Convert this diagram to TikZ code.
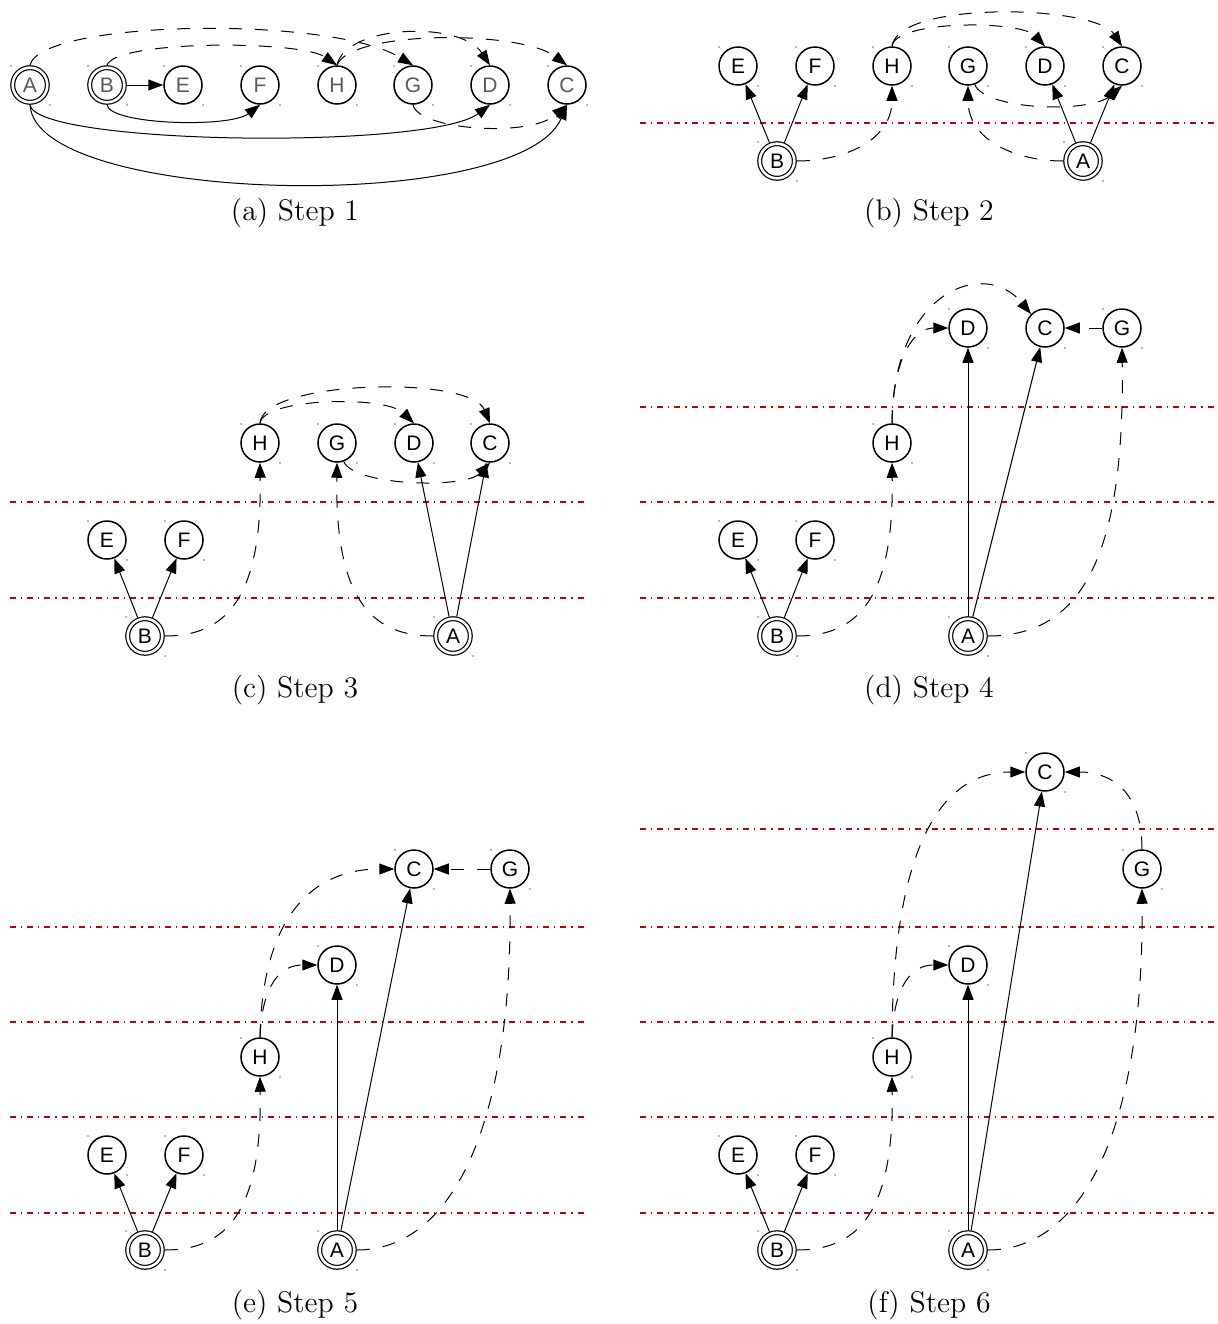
\documentclass[tikz,border=0pt]{standalone}
\usepackage{fontspec}
\newfontfamily\nodefont{Liberation Sans}
\usetikzlibrary{arrows.meta}
\definecolor{rankred}{RGB}{195,0,0}
\tikzset{
  st/.style={circle, draw, line width=0.75pt, minimum size=19pt, inner sep=0pt, font=\nodefont\fontsize{10.5}{12}\selectfont},
  acc/.style={circle, draw, double, double distance=1.3pt, line width=0.6pt, minimum size=17.3pt, inner sep=0pt, outer sep=1.25pt, font=\nodefont\fontsize{10.5}{12}\selectfont},
  grayt/.style={text=black!65},
  arr/.style={line width=0.5pt, -{Triangle[length=7.5pt,width=5.5pt]}},
  darr/.style={arr, dash pattern=on 6.5pt off 6.5pt},
  rankline/.style={draw=rankred, line width=0.6pt, dash pattern=on 3pt off 2.5pt on 0.6pt off 2.5pt},
  capt/.style={font=\fontsize{14.9}{18}\selectfont, inner sep=0pt}
}
\newcommand\cornerdots[1]{\foreach \n in {#1}{\fill[black!55] ([shift={(-19,-19)}]\n.center) circle (0.8); \fill[black!55] ([shift={(20,20)}]\n.center) circle (0.8);}}
\begin{document}
\begin{tikzpicture}[x=0.5pt,y=-0.5pt]
\useasboundingbox (0,0) rectangle (1218,1324);

% ================= (a) Step 1
\node[acc,grayt] (aA) at (30,85) {A};
\node[acc,grayt] (aB) at (107,85) {B};
\node[st,grayt] (aE) at (183,85) {E};
\node[st,grayt] (aF) at (260,85) {F};
\node[st,grayt] (aH) at (337,85) {H};
\node[st,grayt] (aG) at (413,85) {G};
\node[st,grayt] (aD) at (490,85) {D};
\node[st,grayt] (aC) at (567,85) {C};
\cornerdots{aA,aB,aE,aF,aH,aG,aD,aC}
\draw[arr] (aB) -- (aE);
\draw[arr] (aB.south) .. controls (110,125) and (230,128) .. (aF.south);
\draw[arr] (aA.south) .. controls (35,145) and (430,150) .. (aD.south);
\draw[arr] (aA.south) .. controls (35,205) and (520,215) .. (aC.south);
\draw[darr] (aG.south) .. controls (418,130) and (530,138) .. (aC.south);
\draw[darr] (aA.north) .. controls (40,20) and (330,15) .. (aG.north);
\draw[darr] (aB.north) .. controls (115,40) and (300,40) .. (aH.north);
\draw[darr] (aH.north) .. controls (345,25) and (460,20) .. (aD.north);
\draw[darr] (aH.north) .. controls (350,30) and (520,30) .. (aC.north);
\node[capt] (capa) at (295,213) {(a) Step 1};

% ================= (b) Step 2
\draw[rankline] (640,123) -- (1218,123);
\node[st] (bE) at (738,66) {E};
\node[st] (bF) at (815,66) {F};
\node[st] (bH) at (892,66) {H};
\node[st] (bG) at (968,66) {G};
\node[st] (bD) at (1045,66) {D};
\node[st] (bC) at (1122,66) {C};
\node[acc] (bB) at (777,161) {B};
\node[acc] (bA) at (1083,161) {A};
\cornerdots{bE,bF,bH,bG,bD,bC,bB,bA}
\draw[arr] (bB) -- (bE);
\draw[arr] (bB) -- (bF);
\draw[darr] (bB.east) .. controls (845,161) and (892,140) .. (bH.south);
\draw[darr] (bA.west) .. controls (1015,161) and (968,140) .. (bG.south);
\draw[arr] (bA) -- (bD);
\draw[arr] (bA) -- (bC);
\draw[darr] (bG.-70) .. controls (985,110) and (1090,114) .. (bC.south);
\draw[darr] (bH.north) .. controls (895,20) and (1020,20) .. (bD.north);
\draw[darr] (bH.north) .. controls (898,0) and (1095,5) .. (bC.north);
\node[capt] (capb) at (929,213) {(b) Step 2};

% ================= (c) Step 3
\draw[rankline] (10,502) -- (587,502);
\draw[rankline] (10,598) -- (587,598);
\node[st] (cH) at (260,443) {H};
\node[st] (cG) at (337,443) {G};
\node[st] (cD) at (414,443) {D};
\node[st] (cC) at (490,443) {C};
\node[st] (cE) at (107,540) {E};
\node[st] (cF) at (184,540) {F};
\node[acc] (cB) at (145,636) {B};
\node[acc] (cA) at (453,636) {A};
\cornerdots{cH,cG,cD,cC,cE,cF,cB,cA}
\draw[arr] (cB) -- (cE);
\draw[arr] (cB) -- (cF);
\draw[darr] (cB.east) .. controls (225,636) and (262,600) .. (cH.south);
\draw[darr] (cA.west) .. controls (372,636) and (335,600) .. (cG.south);
\draw[arr] (cA) -- (cD);
\draw[arr] (cA) -- (cC);
\draw[darr] (cG.-70) .. controls (354,486) and (465,489) .. (cC.south);
\draw[darr] (cH.north) .. controls (263,398) and (385,395) .. (cD.north);
\draw[darr] (cH.north) .. controls (262,380) and (470,375) .. (cC.north);
\node[capt] (capc) at (295,690) {(c) Step 3};

% ================= (d) Step 4
\draw[rankline] (640,407) -- (1218,407);
\draw[rankline] (640,502) -- (1218,502);
\draw[rankline] (640,598) -- (1218,598);
\node[st] (dD) at (968,328) {D};
\node[st] (dC) at (1045,328) {C};
\node[st] (dG) at (1122,328) {G};
\node[st] (dH) at (892,443) {H};
\node[st] (dE) at (738,540) {E};
\node[st] (dF) at (815,540) {F};
\node[acc] (dB) at (777,636) {B};
\node[acc] (dA) at (968,636) {A};
\cornerdots{dD,dC,dG,dH,dE,dF,dB,dA}
\draw[arr] (dB) -- (dE);
\draw[arr] (dB) -- (dF);
\draw[darr] (dB.east) .. controls (857,636) and (894,600) .. (dH.south);
\draw[darr] (dH.north) .. controls (893,355) and (915,328) .. (dD.west);
\draw[darr] (dH.north) .. controls (893,290) and (985,258) .. (dC.135);
\draw[arr] (dA) -- (dD);
\draw[arr] (dA) -- (dC);
\draw[darr] (dA.east) .. controls (1080,636) and (1125,560) .. (dG.south);
\draw[darr] (dG) -- (dC);
\node[capt] (capd) at (929,690) {(d) Step 4};

% ================= (e) Step 5
\draw[rankline] (10,927) -- (587,927);
\draw[rankline] (10,1022) -- (587,1022);
\draw[rankline] (10,1117) -- (587,1117);
\draw[rankline] (10,1213) -- (587,1213);
\node[st] (eC) at (414,869) {C};
\node[st] (eG) at (510,869) {G};
\node[st] (eD) at (337,965) {D};
\node[st] (eH) at (260,1057) {H};
\node[st] (eE) at (107,1155) {E};
\node[st] (eF) at (184,1155) {F};
\node[acc] (eB) at (145,1250) {B};
\node[acc] (eA) at (337,1250) {A};
\cornerdots{eC,eG,eD,eH,eE,eF,eB,eA}
\draw[arr] (eB) -- (eE);
\draw[arr] (eB) -- (eF);
\draw[darr] (eB.east) .. controls (225,1250) and (262,1214) .. (eH.south);
\draw[darr] (eH.north) .. controls (262,985) and (280,965) .. (eD.west);
\draw[darr] (eH.north) .. controls (262,920) and (310,869) .. (eC.west);
\draw[arr] (eA) -- (eD);
\draw[arr] (eA) -- (eC);
\draw[darr] (eA.east) .. controls (450,1250) and (512,1130) .. (eG.south);
\draw[darr] (eG) -- (eC);
\node[capt] (cape) at (295,1305) {(e) Step 5};

% ================= (f) Step 6
\draw[rankline] (640,829) -- (1218,829);
\draw[rankline] (640,927) -- (1218,927);
\draw[rankline] (640,1022) -- (1218,1022);
\draw[rankline] (640,1117) -- (1218,1117);
\draw[rankline] (640,1213) -- (1218,1213);
\node[st] (fC) at (1045,772) {C};
\node[st] (fG) at (1142,869) {G};
\node[st] (fD) at (968,965) {D};
\node[st] (fH) at (892,1057) {H};
\node[st] (fE) at (738,1155) {E};
\node[st] (fF) at (815,1155) {F};
\node[acc] (fB) at (777,1250) {B};
\node[acc] (fA) at (968,1250) {A};
\cornerdots{fC,fG,fD,fH,fE,fF,fB,fA}
\draw[arr] (fB) -- (fE);
\draw[arr] (fB) -- (fF);
\draw[darr] (fB.east) .. controls (857,1250) and (894,1214) .. (fH.south);
\draw[darr] (fH.north) .. controls (894,985) and (912,965) .. (fD.west);
\draw[darr] (fH.north) .. controls (893,860) and (935,772) .. (fC.west);
\draw[arr] (fA) -- (fD);
\draw[arr] (fA) -- (fC);
\draw[darr] (fA.east) .. controls (1082,1250) and (1144,1130) .. (fG.south);
\draw[darr] (fG.north) .. controls (1142,790) and (1110,772) .. (fC.east);
\node[capt] (capf) at (929,1305) {(f) Step 6};
\end{tikzpicture}
\end{document}
